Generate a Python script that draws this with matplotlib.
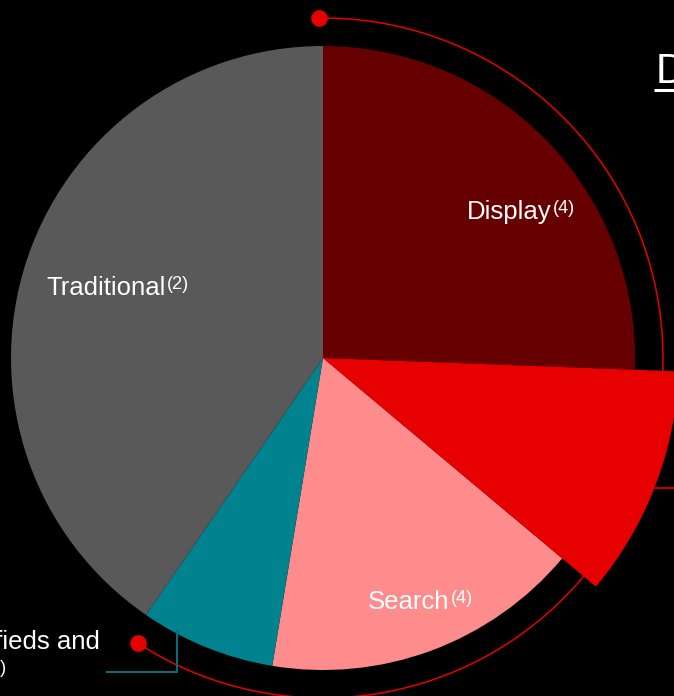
import numpy as np
import matplotlib
matplotlib.use("Agg")
import matplotlib.pyplot as plt

plt.rcParams['font.family'] = ['Liberation Sans', 'DejaVu Sans']

# share of advertising spend by channel (%)
channels = ['Display', 'Mobile', 'Search', 'Classifieds and', 'Traditional']
shares = [25.6, 10.5, 16.5, 7.0, 40.4]
notes = ['(4)', '(4)', '(4)', '(5)', '(2)']
colors = ['#660000', '#E60000', '#FF8C8C', '#00838F', '#595959']

W, H = 674, 696
cx, cy = 323, 338
R = 312

fig = plt.figure(figsize=(W / 100, H / 100), dpi=100, facecolor='black')
ax = fig.add_axes([0, 0, 1, 1])
ax.set_facecolor('black')

wedges, _ = ax.pie(shares, colors=colors, startangle=90, counterclock=False,
                   center=(cx, cy), radius=R, wedgeprops=dict(linewidth=0))
# pull the mobile slice out past the rim
wedges[1].set_radius(356)
wedges[1].set_zorder(5)

ax.set_xlim(0, W)
ax.set_ylim(0, H)
ax.set_aspect('equal')
ax.axis('off')

# digital bracket: arc over the online channels
theta1 = 90 + 0.7
theta2 = 90 - sum(shares[:4]) / 100 * 360 + 1.5
t = np.radians(np.linspace(theta1, theta2, 300))
ax.plot(cx + 340 * np.cos(t), cy + 340 * np.sin(t), color='#E60000', lw=1.1, zorder=3)
ax.plot([cx + 340 * np.cos(t[0]), cx + 340 * np.cos(t[-1])],
        [cy + 340 * np.sin(t[0]), cy + 340 * np.sin(t[-1])],
        'o', color='#E60000', ms=11, zorder=6)

# leader lines
ax.plot([655, W], [208, 208], color='#E60000', lw=1.2, zorder=4)
ax.plot([177, 177, 107], [64, 24, 24], color='#0B6A75', lw=1.5, zorder=4)

FS = 18.5
FS_NOTE = 13


def add_note(anchor, note):
    ax.annotate(note, xy=(1, 1), xycoords=anchor, xytext=(0.8, 0),
                textcoords='offset points', color='white', fontsize=FS_NOTE,
                ha='left', va='top', zorder=7)


def label(x, y, name, note, ha='left'):
    main = ax.text(x, y, name, color='white', fontsize=FS, ha=ha, va='baseline', zorder=7)
    add_note(main, note)
    return main


label(467, 477, channels[0], notes[0])
label(368, 87, channels[2], notes[2])
label(46, 401, channels[4], notes[4])

line1 = ax.text(100, 47, channels[3], color='white', fontsize=FS, ha='right',
                va='baseline', zorder=7)
line2 = ax.annotate('other', xy=(0, 0), xycoords=line1, xytext=(0, -4),
                    textcoords='offset points', color='white', fontsize=FS,
                    ha='left', va='top', zorder=7)
add_note(line2, notes[3])

# section heading
ax.text(656, 613, 'Digital', color='white', fontsize=30, ha='left', va='baseline')
ax.plot([654, W], [606.5, 606.5], color='white', lw=2.2, solid_capstyle='butt')

fig.savefig('out.png', dpi=100, facecolor='black')
